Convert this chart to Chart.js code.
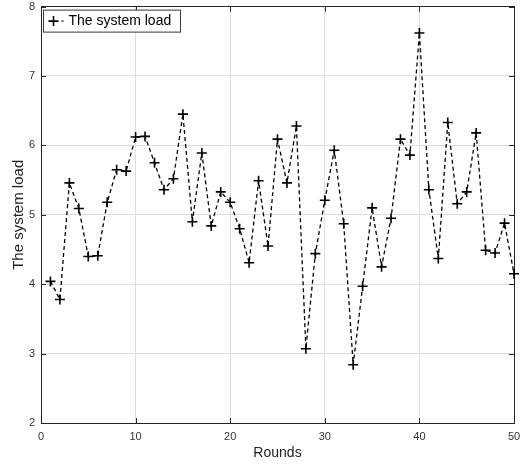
<!DOCTYPE html>
<html>
<head>
<meta charset="utf-8">
<title>The system load</title>
<script src="https://cdn.jsdelivr.net/npm/chart.js@4"></script>
<style>
  html, body { margin: 0; padding: 0; background: #fff; }
  #wrap { width: 523px; height: 466px; }
</style>
</head>
<body>
<div id="wrap"><canvas id="load-chart" width="523" height="466"></canvas></div>
<script>
// Rondas y carga del sistema en cada una
const rounds = [1, 2, 3, 4, 5, 6, 7, 8, 9, 10,
  11, 12, 13, 14, 15, 16, 17, 18, 19, 20,
  21, 22, 23, 24, 25, 26, 27, 28, 29, 30,
  31, 32, 33, 34, 35, 36, 37, 38, 39, 40,
  41, 42, 43, 44, 45, 46, 47, 48, 49, 50]
const loads = [4.04, 3.78, 5.46, 5.09, 4.40, 4.41, 5.18, 5.65, 5.63, 6.12,
  6.13, 5.75, 5.36, 5.52, 6.45, 4.90, 5.89, 4.84, 5.33, 5.18,
  4.80, 4.31, 5.49, 4.55, 6.09, 5.46, 6.28, 3.07, 4.44, 5.21,
  5.93, 4.87, 2.84, 3.97, 5.10, 4.25, 4.95, 6.09, 5.86, 7.62,
  5.36, 4.37, 6.33, 5.16, 5.33, 6.18, 4.49, 4.45, 4.88, 4.15]
const xTicks = [0, 10, 20, 30, 40, 50]
const yTicks = [2, 3, 4, 5, 6, 7, 8]

const FONT = '"Liberation Sans", Arial, sans-serif'
const AXIS = '#262626'
const GRID = '#dedede'

Chart.defaults.font.family = FONT
Chart.defaults.color = '#333'

// Marcas cortas hacia dentro en los cuatro lados del recuadro
const innerTicks = {
  id: 'innerTicks',
  beforeDatasetsDraw (chart) {
    const { ctx, chartArea: a, scales: { x, y } } = chart
    const len = 5
    ctx.save()
    ctx.strokeStyle = AXIS
    ctx.lineWidth = 1
    ctx.beginPath()
    xTicks.forEach(v => {
      const px = Math.round(x.getPixelForValue(v)) + 0.5
      ctx.moveTo(px, a.bottom); ctx.lineTo(px, a.bottom - len)
      ctx.moveTo(px, a.top); ctx.lineTo(px, a.top + len)
    })
    yTicks.forEach(v => {
      const py = Math.round(y.getPixelForValue(v)) + 0.5
      ctx.moveTo(a.left, py); ctx.lineTo(a.left + len, py)
      ctx.moveTo(a.right, py); ctx.lineTo(a.right - len, py)
    })
    ctx.stroke()
    ctx.restore()
  }
}

// Leyenda con recuadro dentro del área de la gráfica
const boxLegend = {
  id: 'boxLegend',
  afterDraw (chart) {
    const { ctx, chartArea: a } = chart
    const ds = chart.data.datasets[0]
    const bx = a.left + 2.5, by = a.top + 3.5, bw = 137, bh = 22
    ctx.save()
    ctx.fillStyle = '#fff'
    ctx.fillRect(bx, by, bw, bh)
    ctx.strokeStyle = '#3a3a3a'
    ctx.lineWidth = 1
    ctx.strokeRect(bx, by, bw, bh)

    const cy = by + bh / 2
    const mx = bx + 10
    ctx.strokeStyle = '#000'
    // trocito de la línea discontinua que asoma tras la cruz
    ctx.lineWidth = 1.3
    ctx.beginPath()
    ctx.moveTo(bx + 18, cy); ctx.lineTo(bx + 20, cy)
    ctx.stroke()
    ctx.lineWidth = 1.6
    ctx.beginPath()
    ctx.moveTo(mx - 5, cy); ctx.lineTo(mx + 5, cy)
    ctx.moveTo(mx, cy - 5); ctx.lineTo(mx, cy + 5)
    ctx.stroke()

    ctx.fillStyle = '#000'
    ctx.font = '14px ' + FONT
    ctx.textBaseline = 'middle'
    ctx.textAlign = 'left'
    ctx.fillText(ds.label, bx + 25, cy + 0.5)
    ctx.restore()
  }
}

const ctx = document.getElementById('load-chart').getContext('2d')
new Chart(ctx, {
  type: 'line',
  data: {
    datasets: [{
      label: 'The system load',
      data: rounds.map((r, i) => ({ x: r, y: loads[i] })),
      borderColor: '#000',
      borderWidth: 1.3,
      borderDash: [4, 3],
      tension: 0,
      fill: false,
      clip: false,
      pointStyle: 'cross',
      pointRadius: 5,
      pointHoverRadius: 5,
      pointBorderWidth: 1.6,
      pointBorderColor: '#000',
      pointBackgroundColor: '#000'
    }]
  },
  options: {
    responsive: false,
    animation: false,
    devicePixelRatio: 1,
    layout: { padding: 0 },
    plugins: {
      legend: { display: false },
      tooltip: { enabled: false }
    },
    scales: {
      x: {
        type: 'linear',
        position: 'bottom',
        min: 0,
        max: 50,
        afterBuildTicks: s => { s.ticks = xTicks.map(v => ({ value: v })) },
        ticks: { padding: 7, maxRotation: 0, font: { size: 11 }, color: '#333' },
        grid: { color: GRID, drawTicks: false },
        border: { color: AXIS },
        title: {
          display: true,
          text: 'Rounds',
          color: '#222',
          font: { size: 14 },
          padding: { top: 0, bottom: 4 }
        },
        afterFit: s => {
          s.height = 43
          s.paddingLeft = 0
          s.paddingRight = 0
        }
      },
      xTop: {
        type: 'linear',
        position: 'top',
        min: 0,
        max: 50,
        ticks: { display: false },
        grid: { display: false, drawTicks: false },
        border: { color: AXIS },
        afterFit: s => { s.height = 6 }
      },
      y: {
        type: 'linear',
        position: 'left',
        min: 2,
        max: 8,
        afterBuildTicks: s => { s.ticks = yTicks.map(v => ({ value: v })) },
        ticks: { padding: 6, font: { size: 11 }, color: '#333' },
        grid: { color: GRID, drawTicks: false },
        border: { color: AXIS },
        title: {
          display: true,
          text: 'The system load',
          color: '#222',
          font: { size: 15 },
          padding: { top: 10, bottom: 0 }
        },
        afterFit: s => {
          s.width = 41
          s.paddingTop = 0
          s.paddingBottom = 0
        }
      },
      yRight: {
        type: 'linear',
        position: 'right',
        min: 2,
        max: 8,
        ticks: { display: false },
        grid: { display: false, drawTicks: false },
        border: { color: AXIS },
        afterFit: s => { s.width = 9 }
      }
    }
  },
  plugins: [innerTicks, boxLegend]
})
</script>
</body>
</html>
